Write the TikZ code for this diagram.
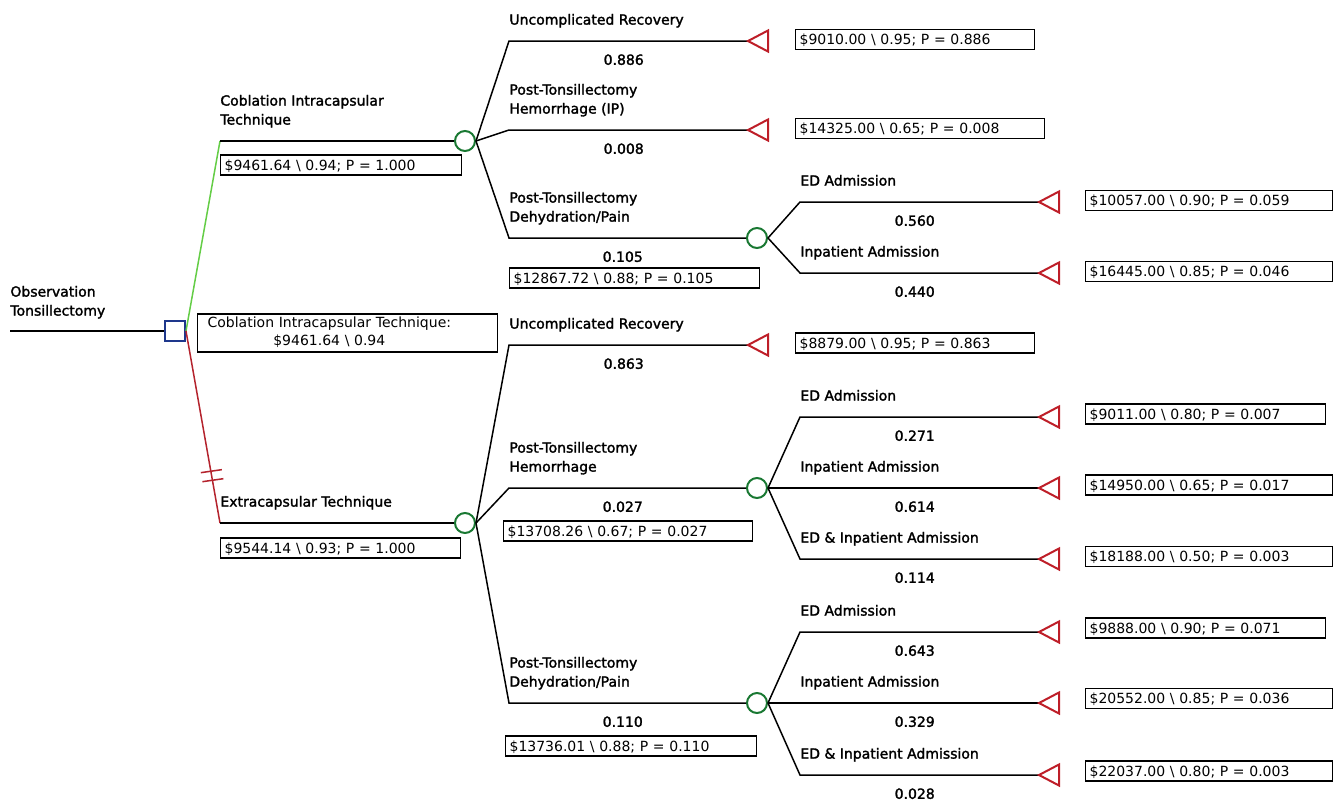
\documentclass[tikz,border=0pt]{standalone}
\usepackage{fontspec}
\setmainfont{DejaVu Sans}
\newfontfamily\lblfont[FakeBold=1.8]{DejaVu Sans}
\usetikzlibrary{positioning, calc}
\definecolor{chancegreen}{RGB}{25,120,50}
\definecolor{decblue}{RGB}{30,55,140}
\definecolor{endred}{RGB}{190,30,40}
\definecolor{armgreen}{RGB}{100,205,70}
\definecolor{armred}{RGB}{180,35,45}
\newcommand{\bsl}{\textbackslash}

\tikzset{
  branch/.style={line width=0.75pt, black},
  chance/.style={circle, draw=chancegreen, line width=1pt, minimum size=10pt, inner sep=0pt, fill=white},
  decision/.style={rectangle, draw=decblue, line width=1pt, minimum size=10pt, inner sep=0pt, fill=white},
  endtri/.style={draw=endred, line width=1pt},
  terminal/.pic={\draw[endtri] (0,0) -- (20,-10.5) -- (20,10.5) -- cycle;},
  lbl/.style={font=\lblfont\fontsize{7}{9.5}\selectfont, align=left, inner sep=0pt, text depth=0pt},
  prob/.style={font=\lblfont\fontsize{7}{9}\selectfont, inner sep=0pt, below=6.5pt},
  valbox/.style={draw, line width=0.6pt, font=\fontsize{7}{9}\selectfont, anchor=west,
    inner xsep=2pt, inner ysep=0pt, minimum height=10pt, text height=5.1pt, text depth=0pt,
    text width=#1, align=left},
}

\begin{document}
\begin{tikzpicture}[x=0.5pt, y=-0.5pt]
    \useasboundingbox (0,0) rectangle (1334,799);

    % root and decision
    \coordinate (root) at (10,331);
    \node[decision] (d) at (175,331) {};
    \draw[branch] (root) -- (d.west);
    \node[lbl, above right=7.5pt and 0pt of root] {Observation\\Tonsillectomy};

    % the two strategies
    \coordinate (g1) at (220,141);
    \coordinate (r1) at (220,523);
    \node[chance] (c1) at (465,141) {};
    \node[chance] (c2) at (465,523) {};
    \draw[line width=0.75pt, armgreen] (d.east) -- (g1);
    \draw[branch] (g1) -- (c1.west);
    \draw[line width=0.75pt, armred] (d.east) -- (r1);
    \draw[branch] (r1) -- (c2.west);
    \path (d.east) -- (r1) coordinate[pos=0.73] (h1) coordinate[pos=0.777] (h2);
    \draw[line width=0.75pt, armred] ($(h1)+(-10,1.5)$) -- ($(h1)+(11,-1.5)$);
    \draw[line width=0.75pt, armred] ($(h2)+(-10,1.5)$) -- ($(h2)+(11,-1.5)$);
    \node[lbl, above right=8pt and 0pt of g1] {Coblation Intracapsular\\Technique};
    \node[lbl, above right=8pt and 0pt of r1] {Extracapsular Technique};
    \node[valbox=116.5pt] (v1) at (220,165) {\$9461.64 \bsl{} 0.94; P = 1.000};
    \node[valbox=116pt] (v2) at (220,548) {\$9544.14 \bsl{} 0.93; P = 1.000};
    \node[draw, line width=0.6pt, anchor=west, minimum width=150pt, minimum height=19pt,
      inner xsep=5pt, inner ysep=0pt, text width=140pt, align=left, font=\fontsize{7}{9}\selectfont]
      (opt) at (197,333)
      {\begin{tabular}{@{}c@{}}Coblation Intracapsular Technique:\\\$9461.64 \bsl{} 0.94\end{tabular}};

    % coblation subtree
    \coordinate (b11) at (509,41);   \coordinate (t11) at (748,41);
    \coordinate (b12) at (509,130);  \coordinate (t12) at (748,130);
    \coordinate (b13) at (509,238);  \node[chance] (c13) at (757,238) {};
    \draw[branch] (c1.east) -- (b11) -- (t11);
    \draw[branch] (c1.east) -- (b12) -- (t12);
    \draw[branch] (c1.east) -- (b13) -- (c13.west);
    \pic at (t11) {terminal};
    \pic at (t12) {terminal};
    \node[lbl, above right=8pt and 0pt of b11] {Uncomplicated Recovery};
    \node[lbl, above right=8pt and 0pt of b12] {Post-Tonsillectomy\\Hemorrhage (IP)};
    \node[lbl, above right=8pt and 0pt of b13] {Post-Tonsillectomy\\Dehydration/Pain};
    \path (b11) -- node[prob, pos=0.48] {0.886} (t11);
    \path (b12) -- node[prob, pos=0.48] {0.008} (t12);
    \path (b13) -- node[prob, pos=0.48] {0.105} (c13.west);
    \node[valbox=115.5pt] at (795,39.5) {\$9010.00 \bsl{} 0.95; P = 0.886};
    \node[valbox=120.5pt] at (795,128.5) {\$14325.00 \bsl{} 0.65; P = 0.008};
    \node[valbox=121pt] at (509,278) {\$12867.72 \bsl{} 0.88; P = 0.105};

    \coordinate (b131) at (800,202);  \coordinate (t131) at (1039,202);
    \coordinate (b132) at (800,273);  \coordinate (t132) at (1039,273);
    \draw[branch] (c13.east) -- (b131) -- (t131);
    \draw[branch] (c13.east) -- (b132) -- (t132);
    \pic at (t131) {terminal};
    \pic at (t132) {terminal};
    \node[lbl, above right=8pt and 0pt of b131] {ED Admission};
    \node[lbl, above right=8pt and 0pt of b132] {Inpatient Admission};
    \path (b131) -- node[prob, pos=0.48] {0.560} (t131);
    \path (b132) -- node[prob, pos=0.48] {0.440} (t132);
    \node[valbox=119.5pt] at (1085,200.5) {\$10057.00 \bsl{} 0.90; P = 0.059};
    \node[valbox=119.5pt] at (1085,271.5) {\$16445.00 \bsl{} 0.85; P = 0.046};

    % extracapsular subtree
    \coordinate (b21) at (509,345);  \coordinate (t21) at (748,345);
    \coordinate (b22) at (509,488);  \node[chance] (c22) at (757,488) {};
    \coordinate (b23) at (509,703);  \node[chance] (c23) at (757,703) {};
    \draw[branch] (c2.east) -- (b21) -- (t21);
    \draw[branch] (c2.east) -- (b22) -- (c22.west);
    \draw[branch] (c2.east) -- (b23) -- (c23.west);
    \pic at (t21) {terminal};
    \node[lbl, above right=8pt and 0pt of b21] {Uncomplicated Recovery};
    \node[lbl, above right=8pt and 0pt of b22] {Post-Tonsillectomy\\Hemorrhage};
    \node[lbl, above right=8pt and 0pt of b23] {Post-Tonsillectomy\\Dehydration/Pain};
    \path (b21) -- node[prob, pos=0.48] {0.863} (t21);
    \path (b22) -- node[prob, pos=0.48] {0.027} (c22.west);
    \path (b23) -- node[prob, pos=0.48] {0.110} (c23.west);
    \node[valbox=115.5pt] at (795,343) {\$8879.00 \bsl{} 0.95; P = 0.863};
    \node[valbox=120.5pt] at (503,531) {\$13708.26 \bsl{} 0.67; P = 0.027};
    \node[valbox=121.5pt] at (505,746) {\$13736.01 \bsl{} 0.88; P = 0.110};

    \coordinate (b221) at (800,417);  \coordinate (t221) at (1039,417);
    \coordinate (b222) at (800,488);  \coordinate (t222) at (1039,488);
    \coordinate (b223) at (800,559);  \coordinate (t223) at (1039,559);
    \draw[branch] (c22.east) -- (b221) -- (t221);
    \draw[branch] (c22.east) -- (t222);
    \draw[branch] (c22.east) -- (b223) -- (t223);
    \pic at (t221) {terminal};
    \pic at (t222) {terminal};
    \pic at (t223) {terminal};
    \node[lbl, above right=8pt and 0pt of b221] {ED Admission};
    \node[lbl, above right=8pt and 0pt of b222] {Inpatient Admission};
    \node[lbl, above right=8pt and 0pt of b223] {ED \& Inpatient Admission};
    \path (b221) -- node[prob, pos=0.48] {0.271} (t221);
    \path (b222) -- node[prob, pos=0.48] {0.614} (t222);
    \path (b223) -- node[prob, pos=0.48] {0.114} (t223);
    \node[valbox=116pt] at (1085,414) {\$9011.00 \bsl{} 0.80; P = 0.007};
    \node[valbox=119.5pt] at (1085,485) {\$14950.00 \bsl{} 0.65; P = 0.017};
    \node[valbox=119.5pt] at (1085,556.5) {\$18188.00 \bsl{} 0.50; P = 0.003};

    \coordinate (b231) at (800,632);  \coordinate (t231) at (1039,632);
    \coordinate (b232) at (800,703);  \coordinate (t232) at (1039,703);
    \coordinate (b233) at (800,775);  \coordinate (t233) at (1039,775);
    \draw[branch] (c23.east) -- (b231) -- (t231);
    \draw[branch] (c23.east) -- (t232);
    \draw[branch] (c23.east) -- (b233) -- (t233);
    \pic at (t231) {terminal};
    \pic at (t232) {terminal};
    \pic at (t233) {terminal};
    \node[lbl, above right=8pt and 0pt of b231] {ED Admission};
    \node[lbl, above right=8pt and 0pt of b232] {Inpatient Admission};
    \node[lbl, above right=8pt and 0pt of b233] {ED \& Inpatient Admission};
    \path (b231) -- node[prob, pos=0.48] {0.643} (t231);
    \path (b232) -- node[prob, pos=0.48] {0.329} (t232);
    \path (b233) -- node[prob, pos=0.48] {0.028} (t233);
    \node[valbox=116pt] at (1085,628) {\$9888.00 \bsl{} 0.90; P = 0.071};
    \node[valbox=119.5pt] at (1085,698.5) {\$20552.00 \bsl{} 0.85; P = 0.036};
    \node[valbox=119.5pt] at (1085,771) {\$22037.00 \bsl{} 0.80; P = 0.003};
\end{tikzpicture}
\end{document}
